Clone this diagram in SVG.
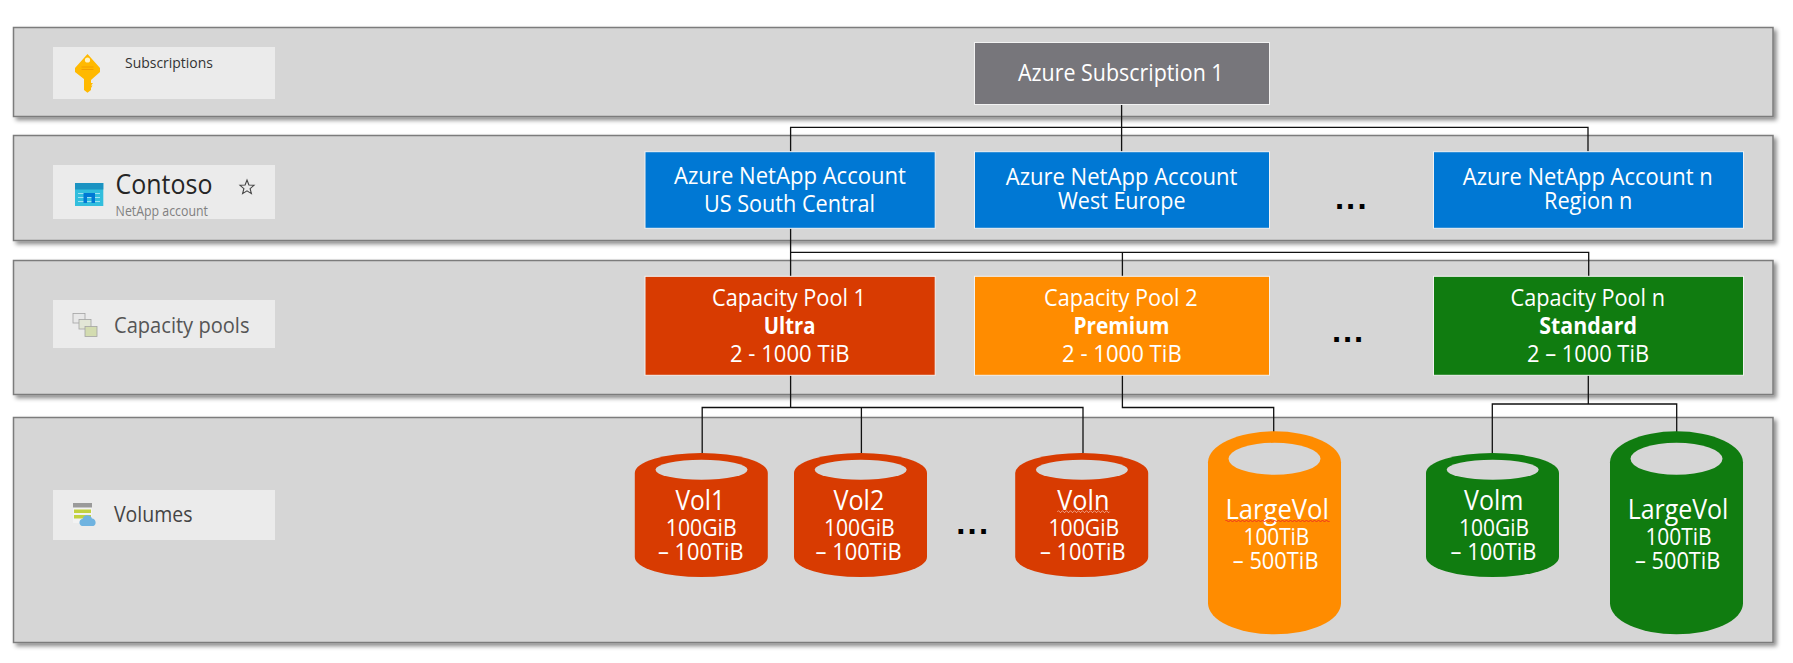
<svg xmlns="http://www.w3.org/2000/svg" width="1793" height="663" viewBox="0 0 1793 663">
<style>
text{font-family:"Open Sans","Noto Sans","Liberation Sans",sans-serif;}
.panel{fill:#d6d6d6;stroke:#7c7c7c;stroke-width:1.5;filter:url(#sh);}
.tag{fill:#ebebeb;}
.box{stroke:#f2f2f2;stroke-width:1;}
.w{fill:#fff;font-size:23px;}
.b{fill:#fff;font-size:23.5px;font-weight:700;}
.big{fill:#fff;font-size:28px;}
.dots{fill:#000;font-size:33px;font-weight:700;text-anchor:middle;font-family:"Liberation Sans",sans-serif;}
.con{fill:none;stroke:#111;stroke-width:1.3;}
.hole{fill:#d6d6d6;}
.red{fill:#d83b01;}.org{fill:#ff8c00;}.grn{fill:#107c10;}.blu{fill:#0078d4;}
.sq{fill:none;stroke:#f0321e;stroke-width:1;}
.sqp{fill:none;stroke:#f7b09c;stroke-width:1;}
</style>
<defs>
<filter id="sh" x="-2%" y="-10%" width="104%" height="125%"><feDropShadow dx="3" dy="3" stdDeviation="2.2" flood-color="#000" flood-opacity=".45"/></filter>
<path id="cylS" d="M0 20A66.5 20 0 0 1 133 20V104A66.5 20 0 0 1 0 104Z"/>
<path id="cylL" d="M0 31A66.5 31 0 0 1 133 31V172A66.5 31 0 0 1 0 172Z"/>
</defs>
<g id="panels">
<rect id="panel-subscriptions" class="panel" x="13.5" y="27.5" width="1759.5" height="89"/>
<rect id="panel-accounts" class="panel" x="13.5" y="135.5" width="1759.5" height="105"/>
<rect id="panel-pools" class="panel" x="13.5" y="260.5" width="1759.5" height="134"/>
<rect id="panel-volumes" class="panel" x="13.5" y="417.5" width="1759.5" height="225"/>
</g>
<g id="connectors">
<path class="con" d="M1121.6 104.7V151.7M790.6 151.7V127.3H1588V151.7"/>
<path class="con" d="M790.6 228.3V276.3M790.6 252.3H1588.7V276.3M1122.4 252.3V276.3"/>
<path class="con" d="M790.6 375.3V407.5M702.2 453V407.5H1083V453M861.4 407.5V453"/>
<path class="con" d="M1122.4 375.3V407.5H1273.7V432"/>
<path class="con" d="M1588.3 375.3V404M1492.3 453V404H1676.7V432"/>
</g>
<g id="label-subscriptions">
<rect class="tag" x="53" y="47" width="222" height="52"/>
<path fill="#ffb900" d="M87.5 54L100 68V72L91 80V83H93L91 85.5H92.5L91 88V90L87.5 92.7L84 90V79L75 72V68Z"/>
<circle cx="87.5" cy="60" r="2.6" fill="#fff3c4"/>
<path d="M81.5 67H93.5M81.5 69.5H93.5" stroke="#f29b00" stroke-width=".9"/>
<text x="125" y="67.7" font-size="15" font-weight="500" fill="#333" textLength="88" lengthAdjust="spacingAndGlyphs">Subscriptions</text>
</g>
<g id="label-contoso">
<rect class="tag" x="53" y="165" width="222" height="54"/>
<rect x="75" y="183" width="28.3" height="23" fill="#32bedd"/>
<rect x="75" y="183" width="28.3" height="6.5" fill="#1b93c2"/>
<path d="M78 193.5H100M78 197.5H100M78 201.5H100" stroke="#9fe2f2" stroke-width="1"/>
<path d="M83.5 203V193H95V203H91.5V197H87V203Z" fill="#0078d4"/>
<text x="115.6" y="194" font-size="27" fill="#252525" textLength="96.8" lengthAdjust="spacingAndGlyphs">Contoso</text>
<text x="115.6" y="216" font-size="14" fill="#808080" textLength="92.4" lengthAdjust="spacingAndGlyphs">NetApp account</text>
<polygon points="247,180 248.9,185 254,185.3 250.1,188.6 251.4,193.6 247,190.8 242.6,193.6 243.9,188.6 240,185.3 245.1,185" fill="none" stroke="#444" stroke-width="1.1"/>
</g>
<g id="label-pools">
<rect class="tag" x="53" y="300" width="222" height="48"/>
<g stroke="#a3a3a3" stroke-width=".8">
<rect x="73" y="313.5" width="12" height="9.5" fill="#e8e8e8"/>
<rect x="79" y="319.5" width="12" height="9.5" fill="#e2e6d6"/>
<rect x="85" y="326.5" width="12" height="10" fill="#d3dcb0"/>
</g>
<text x="114" y="332.7" font-size="21" fill="#555" textLength="135.5" lengthAdjust="spacingAndGlyphs">Capacity pools</text>
</g>
<g id="label-volumes">
<rect class="tag" x="53" y="490" width="222" height="50"/>
<rect x="73" y="503" width="19" height="20" fill="#f2f2f2"/>
<rect x="73" y="503" width="19" height="4.5" fill="#9a9a9a"/>
<rect x="74" y="509.5" width="17" height="3.5" fill="#c2d13f"/>
<rect x="74" y="515" width="17" height="3.5" fill="#c2d13f"/>
<path d="M82 526A3.6 3.6 0 0 1 82.5 519A5 5 0 0 1 92 518.5A4 4 0 0 1 93.5 526Z" fill="#6fb3e0"/>
<text x="114" y="522" font-size="21" fill="#444" textLength="78.5" lengthAdjust="spacingAndGlyphs">Volumes</text>
</g>
<g id="azure-subscription-1">
<rect class="box" x="974.5" y="42.5" width="295" height="62" fill="#77767b"/>
<text class="w" x="1018" y="81" textLength="205.6" lengthAdjust="spacingAndGlyphs">Azure Subscription 1</text>
</g>
<g id="account-1">
<rect class="box blu" x="645" y="151.7" width="290.2" height="76.6"/>
<text class="w" x="674" y="184" textLength="232" lengthAdjust="spacingAndGlyphs">Azure NetApp Account</text>
<text class="w" x="704" y="212" textLength="171" lengthAdjust="spacingAndGlyphs">US South Central</text>
</g>
<g id="account-2">
<rect class="box blu" x="974.5" y="151.7" width="295" height="76.6"/>
<text class="w" x="1005.7" y="185" textLength="231.7" lengthAdjust="spacingAndGlyphs">Azure NetApp Account</text>
<text class="w" x="1058" y="209" textLength="127.5" lengthAdjust="spacingAndGlyphs">West Europe</text>
</g>
<text class="dots" id="dots-accounts" x="1339.6 1350.7 1362" y="208.5">...</text>
<g id="account-n">
<rect class="box blu" x="1433.5" y="151.7" width="310" height="76.6"/>
<text class="w" x="1462.8" y="185" textLength="249.9" lengthAdjust="spacingAndGlyphs">Azure NetApp Account n</text>
<text class="w" x="1544" y="209" textLength="88.3" lengthAdjust="spacingAndGlyphs">Region n</text>
</g>
<g id="pool-1">
<rect class="box red" x="645" y="276.3" width="290.2" height="99"/>
<text class="w" x="712" y="306" textLength="154" lengthAdjust="spacingAndGlyphs">Capacity Pool 1</text>
<text class="b" x="763.8" y="334" textLength="51.7" lengthAdjust="spacingAndGlyphs">Ultra</text>
<text class="w" x="730" y="362.3" textLength="119.5" lengthAdjust="spacingAndGlyphs">2 - 1000 TiB</text>
</g>
<g id="pool-2">
<rect class="box org" x="974.5" y="276.3" width="295" height="99"/>
<text class="w" x="1044" y="306" textLength="153.6" lengthAdjust="spacingAndGlyphs">Capacity Pool 2</text>
<text class="b" x="1073.4" y="334" textLength="96.1" lengthAdjust="spacingAndGlyphs">Premium</text>
<text class="w" x="1062" y="362.3" textLength="119.7" lengthAdjust="spacingAndGlyphs">2 - 1000 TiB</text>
</g>
<text class="dots" id="dots-pools" x="1336.5 1347.6 1358.7" y="341.5">...</text>
<g id="pool-n">
<rect class="box grn" x="1433.5" y="276.3" width="310" height="99"/>
<text class="w" x="1510.6" y="306" textLength="154.4" lengthAdjust="spacingAndGlyphs">Capacity Pool n</text>
<text class="b" x="1539.3" y="334" textLength="97.7" lengthAdjust="spacingAndGlyphs">Standard</text>
<text class="w" x="1527" y="362.3" textLength="122" lengthAdjust="spacingAndGlyphs">2 – 1000 TiB</text>
</g>
<g id="vol-1">
<use href="#cylS" class="red" x="634.8" y="453"/>
<ellipse class="hole" cx="701.5" cy="469.8" rx="46" ry="10"/>
<text class="big" x="675.4" y="509.7" textLength="49.6" lengthAdjust="spacingAndGlyphs">Vol1</text>
<text class="w" x="665.8" y="535.7" textLength="70.8" lengthAdjust="spacingAndGlyphs">100GiB</text>
<text class="w" x="658" y="559.7" textLength="85.5" lengthAdjust="spacingAndGlyphs">– 100TiB</text>
</g>
<g id="vol-2">
<use href="#cylS" class="red" x="794" y="453"/>
<ellipse class="hole" cx="860.7" cy="469.8" rx="46" ry="10"/>
<text class="big" x="833.4" y="509.7" textLength="50.9" lengthAdjust="spacingAndGlyphs">Vol2</text>
<text class="w" x="823.9" y="535.7" textLength="70.8" lengthAdjust="spacingAndGlyphs">100GiB</text>
<text class="w" x="815.5" y="559.7" textLength="86.1" lengthAdjust="spacingAndGlyphs">– 100TiB</text>
</g>
<text class="dots" id="dots-volumes" x="960.9 972 983.5" y="533.5">...</text>
<g id="vol-n">
<use href="#cylS" class="red" x="1015.2" y="453"/>
<ellipse class="hole" cx="1081.9" cy="469.8" rx="46" ry="10"/>
<text class="big" x="1057.3" y="509.7" textLength="52.1" lengthAdjust="spacingAndGlyphs">Voln</text>
<path class="sqp" d="M1057.5 511.7q1 -2 2 0t2 0t2 0t2 0t2 0t2 0t2 0t2 0t2 0t2 0t2 0t2 0t2 0t2 0t2 0t2 0t2 0t2 0t2 0t2 0t2 0t2 0t2 0t2 0t2 0t2 0"/>
<text class="w" x="1048.5" y="535.7" textLength="70.8" lengthAdjust="spacingAndGlyphs">100GiB</text>
<text class="w" x="1040" y="559.7" textLength="85.5" lengthAdjust="spacingAndGlyphs">– 100TiB</text>
</g>
<g id="largevol-premium">
<use href="#cylL" class="org" x="1208" y="431.3"/>
<ellipse class="hole" cx="1274.5" cy="458.8" rx="46" ry="16"/>
<text class="big" x="1225.5" y="518.7" textLength="103.4" lengthAdjust="spacingAndGlyphs">LargeVol</text>
<path class="sq" d="M1225.5 521q1 -2 2 0t2 0t2 0t2 0t2 0t2 0t2 0t2 0t2 0t2 0t2 0t2 0t2 0t2 0t2 0t2 0t2 0t2 0t2 0t2 0t2 0t2 0t2 0t2 0t2 0t2 0t2 0t2 0t2 0t2 0t2 0t2 0t2 0t2 0t2 0t2 0t2 0t2 0t2 0t2 0t2 0t2 0t2 0t2 0t2 0t2 0t2 0t2 0t2 0t2 0t2 0t2 0"/>
<text class="w" x="1243.5" y="544.7" textLength="65.8" lengthAdjust="spacingAndGlyphs">100TiB</text>
<text class="w" x="1232.8" y="568.7" textLength="85.7" lengthAdjust="spacingAndGlyphs">– 500TiB</text>
</g>
<g id="vol-m">
<use href="#cylS" class="grn" x="1426" y="453"/>
<ellipse class="hole" cx="1492.7" cy="469.8" rx="46" ry="10"/>
<text class="big" x="1464" y="509.7" textLength="59.3" lengthAdjust="spacingAndGlyphs">Volm</text>
<text class="w" x="1459" y="535.7" textLength="70" lengthAdjust="spacingAndGlyphs">100GiB</text>
<text class="w" x="1450.6" y="559.7" textLength="85.7" lengthAdjust="spacingAndGlyphs">– 100TiB</text>
</g>
<g id="largevol-standard">
<use href="#cylL" class="grn" x="1610" y="431.3"/>
<ellipse class="hole" cx="1676.5" cy="458.8" rx="46" ry="16"/>
<text class="big" x="1627.7" y="518.7" textLength="100.7" lengthAdjust="spacingAndGlyphs">LargeVol</text>
<text class="w" x="1645.4" y="544.7" textLength="66.2" lengthAdjust="spacingAndGlyphs">100TiB</text>
<text class="w" x="1635" y="568.7" textLength="85.4" lengthAdjust="spacingAndGlyphs">– 500TiB</text>
</g>
</svg>
